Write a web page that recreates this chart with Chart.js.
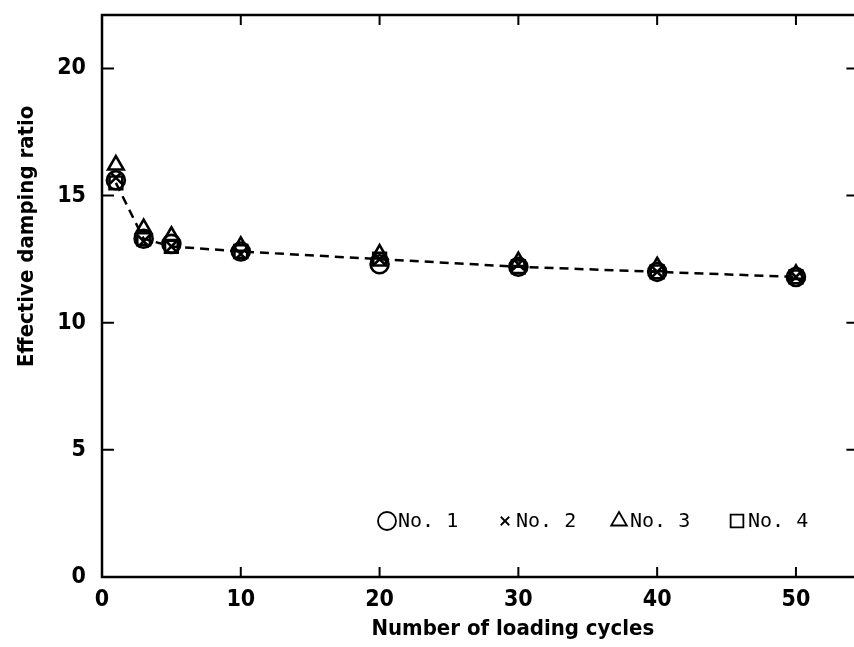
<!DOCTYPE html>
<html>
<head>
<meta charset="utf-8">
<script src="https://cdn.jsdelivr.net/npm/chart.js@4/dist/chart.umd.min.js"></script>
<style>
  html, body { margin: 0; padding: 0; background: #fff; overflow: hidden; }
  #wrap { width: 870px; height: 647px; }
</style>
</head>
<body>
<div id="wrap"><canvas id="dampChart" width="870" height="647"></canvas></div>
<script>
// values
const cycles = [1, 3, 5, 10, 20, 30, 40, 50];
const no1 = [15.6, 13.3, 13.1, 12.8, 12.3, 12.2, 12.0, 11.8];
const no2 = [15.7, 13.2, 13.0, 12.7, 12.5, 12.3, 12.0, 11.8];
const no3 = [16.2, 13.7, 13.4, 13.0, 12.7, 12.4, 12.2, 11.9];
const no4 = [15.5, 13.3, 13.0, 12.8, 12.5, 12.2, 12.0, 11.8];
const seriesLabels = ['No. 1', 'No. 2', 'No. 3', 'No. 4'];
const xTitle = 'Number of loading cycles';
const yTitle = 'Effective damping ratio';

const fontFam = '"Liberation Sans Narrow", "DejaVu Sans Condensed", sans-serif';
const tickFont = { family: fontFam, size: 23, weight: 'bold' };

function pts(vals) {
    return cycles.map((c, i) => ({ x: c, y: vals[i] }));
}

const frame = {
    id: 'frame',
    afterDraw(chart) {
        const ctx = chart.ctx;
        const a = chart.chartArea;
        const x = chart.scales.x, y = chart.scales.y;
        ctx.save();
        ctx.strokeStyle = '#000';
        ctx.lineWidth = 2.5;
        ctx.strokeRect(a.left, a.top, a.right - a.left, a.bottom - a.top);

        // inward ticks on all four sides
        ctx.lineWidth = 2;
        ctx.beginPath();
        x.ticks.forEach(t => {
            if (t.value === 0) return;
            const px = x.getPixelForValue(t.value);
            ctx.moveTo(px, a.bottom); ctx.lineTo(px, a.bottom - 10);
            ctx.moveTo(px, a.top); ctx.lineTo(px, a.top + 10);
        });
        y.ticks.forEach(t => {
            if (t.value === 0) return;
            const py = y.getPixelForValue(t.value);
            ctx.moveTo(a.left, py); ctx.lineTo(a.left + 12, py);
            ctx.moveTo(a.right, py); ctx.lineTo(a.right - 12, py);
        });
        ctx.stroke();

        // axis titles
        ctx.fillStyle = '#000';
        ctx.font = 'bold 22px ' + fontFam;
        ctx.textAlign = 'center';
        ctx.textBaseline = 'middle';
        ctx.fillText(xTitle, x.getPixelForValue(29.6), 629);
        ctx.save();
        ctx.translate(27, y.getPixelForValue(13.4));
        ctx.rotate(-Math.PI / 2);
        ctx.fillText(yTitle, 0, 0);
        ctx.restore();

        // legend inside the plot
        const starts = [378, 496, 610, 728];
        const ly = a.bottom - 56;
        ctx.font = '20px "DejaVu Sans Mono"';
        ctx.textAlign = 'left';
        chart.data.datasets.forEach((ds, i) => {
            const sx = starts[i];
            const style = ds.pointStyle;
            const r = style === 'crossRot' ? 6 : 9;
            ctx.fillStyle = 'rgba(0,0,0,0)';
            ctx.strokeStyle = '#000';
            ctx.lineWidth = 1.8;
            Chart.helpers.drawPoint(ctx, {
                pointStyle: style, radius: r, rotation: 0, borderWidth: 1.8
            }, sx + 9, ly);
            ctx.fillStyle = '#000';
            ctx.fillText(ds.label, sx + 20, ly + 1);
        });
        ctx.restore();
    }
};

const ctx = document.getElementById('dampChart').getContext('2d');
const styles = ['circle', 'crossRot', 'triangle', 'rect'];
const allVals = [no1, no2, no3, no4];

const datasets = allVals.map((vals, i) => ({
    label: seriesLabels[i],
    data: pts(vals),
    pointStyle: styles[i],
    pointRadius: styles[i] === 'crossRot' ? 8 : 9,
    pointBorderWidth: 2.6,
    pointBorderColor: '#000',
    pointBackgroundColor: 'rgba(0,0,0,0)',
    borderColor: '#000',
    borderWidth: 2.5,
    borderDash: [9, 6],
    showLine: i === 3,
    fill: false,
    tension: 0
}));

const chart = new Chart(ctx, {
    type: 'scatter',
    data: { datasets: datasets },
    options: {
        responsive: false,
        animation: false,
        layout: { padding: { top: 15, right: 10, left: 0, bottom: 0 } },
        plugins: {
            legend: { display: false },
            tooltip: { enabled: false }
        },
        scales: {
            x: {
                type: 'linear',
                min: 0,
                max: 54.5,
                afterFit: s => { s.height = 70; s.paddingLeft = 0; s.paddingRight = 0; },
                grid: { display: false, drawTicks: false },
                border: { display: false },
                ticks: {
                    stepSize: 10,
                    includeBounds: false,
                    padding: 9,
                    color: '#000',
                    font: tickFont,
                    maxRotation: 0
                }
            },
            y: {
                type: 'linear',
                min: 0,
                max: 22.1,
                afterFit: s => { s.width = 102; s.paddingTop = 0; s.paddingBottom = 0; },
                grid: { display: false, drawTicks: false },
                border: { display: false },
                ticks: {
                    stepSize: 5,
                    includeBounds: false,
                    padding: 16,
                    color: '#000',
                    font: tickFont
                }
            }
        }
    },
    plugins: [frame]
});
</script>
</body>
</html>
